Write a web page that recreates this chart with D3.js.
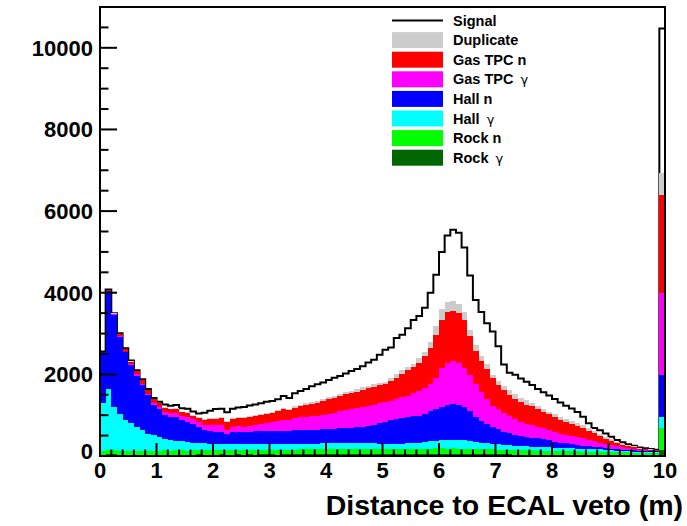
<!DOCTYPE html>
<html><head><meta charset="utf-8">
<script src="https://cdn.jsdelivr.net/npm/d3@7"></script>
<style>html,body{margin:0;padding:0;background:#fff;overflow:hidden}svg{display:block}</style>
</head><body>
<script>
// ---------------- data ----------------
const binLow = [0.0,0.1,0.2,0.3,0.4,0.5,0.6,0.7,0.8,0.9,1.0,1.1,1.2,1.3,1.4,1.5,1.6,1.7,1.8,1.9,
2.0,2.1,2.2,2.3,2.4,2.5,2.6,2.7,2.8,2.9,3.0,3.1,3.2,3.3,3.4,3.5,3.6,3.7,3.8,3.9,
4.0,4.1,4.2,4.3,4.4,4.5,4.6,4.7,4.8,4.9,5.0,5.1,5.2,5.3,5.4,5.5,5.6,5.7,5.8,5.9,
6.0,6.1,6.2,6.3,6.4,6.5,6.6,6.7,6.8,6.9,7.0,7.1,7.2,7.3,7.4,7.5,7.6,7.7,7.8,7.9,
8.0,8.1,8.2,8.3,8.4,8.5,8.6,8.7,8.8,8.9,9.0,9.1,9.2,9.3,9.4,9.5,9.6,9.7,9.8,9.9];
const binWidth = 0.1;

const rockGamma = [30,45,38,35,33,36,32,34,35,31,
33,35,32,36,34,33,35,37,34,36,
35,38,34,36,37,35,38,36,39,37,
38,36,40,37,39,38,41,39,40,42,
40,41,43,40,42,44,41,43,45,42,
44,43,46,44,45,47,46,48,47,49,
50,48,51,49,48,46,45,44,42,41,
40,38,37,36,35,34,33,32,31,30,
30,29,28,28,27,26,25,25,24,23,
22,21,20,20,19,18,17,16,15,150];

const rockN = [85,110,100,95,92,96,90,94,92,95,
98,100,96,102,104,100,106,103,108,105,
110,107,112,109,113,115,112,116,118,114,
118,120,117,121,119,123,120,124,122,125,
123,126,124,127,125,128,126,129,127,130,
128,131,129,132,130,133,131,134,132,135,
134,132,133,131,130,128,126,124,122,120,
118,115,112,110,108,105,103,100,98,95,
93,90,88,86,84,82,80,78,76,74,
72,70,68,66,64,62,60,58,56,540];

const hallGamma = [1185,1485,1052,910,745,668,588,502,423,384,
339,275,262,232,222,212,189,180,168,164,
155,150,139,145,140,140,140,138,138,144,
144,144,143,137,142,144,144,142,143,143,
147,143,148,148,148,148,153,148,143,133,
128,131,125,129,135,140,153,163,181,191,
206,220,216,215,202,186,169,152,146,139,
127,122,116,109,102,96,89,88,86,85,
82,81,79,76,69,67,65,62,60,53,
46,39,32,29,27,25,23,21,19,270];

const hallN = [1240,2400,2270,1880,1670,1420,1260,1110,940,750,
680,590,570,580,510,495,450,400,330,315,
300,305,265,300,310,305,310,315,310,315,
315,315,320,310,325,325,330,335,340,340,
345,355,360,370,380,385,395,420,455,495,
540,565,600,622,641,648,662,687,737,778,
820,858,874,855,814,737,611,535,464,410,
365,325,295,265,245,230,225,210,195,175,
150,130,112,98,88,78,68,60,52,46,
40,38,35,30,27,25,24,23,23,1030];

const gasTpcGamma = [5,10,10,15,20,25,30,35,40,40,
50,90,100,100,110,120,120,120,130,140,
155,160,90,120,130,125,145,160,185,205,
215,245,270,275,300,315,325,335,345,365,
385,400,420,435,450,465,485,490,490,490,
475,485,495,509,525,564,605,646,677,767,
952,1025,1049,1033,968,887,807,701,621,524,
500,460,420,380,350,325,310,290,270,255,
240,220,205,205,195,180,165,148,110,95,
82,70,60,50,38,22,16,12,9,2010];

const gasTpcN = [5,20,20,55,60,70,75,75,80,85,
90,80,80,90,90,90,90,90,120,140,
155,160,200,200,210,210,205,210,210,215,
230,235,250,240,255,275,290,310,320,335,
350,365,375,390,400,410,420,430,440,440,
445,484,525,564,621,646,686,766,872,1048,
1169,1234,1226,1210,1169,944,807,767,726,686,
600,560,520,500,480,470,460,430,410,390,
350,340,330,300,275,250,220,190,170,130,
98,72,60,45,35,28,25,20,15,2400];

const duplicate = [3,5,5,10,10,10,10,10,10,15,
15,20,20,25,20,25,20,20,20,25,
25,25,25,25,25,30,30,30,30,30,
30,30,30,30,35,35,40,40,40,40,
45,45,50,50,55,60,65,65,60,55,
55,81,100,100,89,80,120,105,150,220,
266,258,242,242,202,161,161,121,121,64,
80,100,110,110,110,110,80,80,70,60,
80,75,70,70,65,65,60,55,55,50,
45,40,30,25,25,20,15,13,11,540];

const signal = [10,5,5,10,10,15,15,20,20,20,
25,70,70,85,80,85,80,90,150,185,
215,215,205,225,225,240,260,255,260,270,
260,265,300,270,325,335,350,385,410,410,
425,445,440,460,480,490,515,565,600,695,
785,740,870,870,944,1072,1027,1081,1204,1252,
1403,1625,1749,1735,1577,1331,1094,1086,1008,1066,
860,520,430,480,470,450,440,410,400,390,
370,345,320,300,275,215,120,65,85,80,
65,40,30,25,15,10,10,7,5,3535];

const seriesKeys   = ["rockGamma","rockN","hallGamma","hallN","gasTpcGamma","gasTpcN","duplicate","signal"];
const seriesLabels = ["Rock γ","Rock n","Hall γ","Hall n","Gas TPC γ","Gas TPC n","Duplicate","Signal"];
const seriesColors = ["#006600","#00ff00","#00ffff","#0000ff","#ff00ff","#ff0000","#cccccc","none"];

const xTicks = [0,1,2,3,4,5,6,7,8,9,10];
const yTicks = [0,2000,4000,6000,8000,10000];
const xMinorStep = 0.2, yMinorStep = 500;
const xTitle = "Distance to ECAL veto (m)";

// ---------------- chart ----------------
const W = 687, H = 526;
const L = 100, R = 665, T = 7, B = 456;
const FONT = "'Liberation Sans', Arial, Helvetica, sans-serif";

const svg = d3.select("body").append("svg").attr("width", W).attr("height", H);
svg.append("rect").attr("width", W).attr("height", H).attr("fill", "#fff");

const x = d3.scaleLinear().domain([0, 10]).range([L, R]);
const y = d3.scaleLinear().domain([0, 11000]).range([B, T]);

const series = {rockGamma, rockN, hallGamma, hallN, gasTpcGamma, gasTpcN, duplicate, signal};
const table = binLow.map((b, i) => {
  const o = {bin: b};
  seriesKeys.forEach(k => o[k] = series[k][i]);
  return o;
});
const stacked = d3.stack().keys(seriesKeys)(table);

const area = d3.area()
  .curve(d3.curveStepAfter)
  .x(d => x(d.x))
  .y0(y(0))
  .y1(d => y(d.top));

function pts(s) {
  const p = s.map((d, i) => ({x: binLow[i], top: d[1]}));
  p.push({x: binLow[binLow.length - 1] + binWidth, top: s[s.length - 1][1]});
  return p;
}

const g = svg.append("g");
// draw from top layer (signal) down, each filled from 0 like ROOT THStack
for (let k = stacked.length - 1; k >= 0; k--) {
  const s = stacked[k];
  const key = seriesKeys[k];
  if (key === "signal") {
    g.append("path").attr("d", area(pts(s)))
      .attr("fill", "#fff").attr("stroke", "#000").attr("stroke-width", 2)
      .attr("stroke-linejoin", "miter");
  } else {
    g.append("path").attr("d", area(pts(s)))
      .attr("fill", seriesColors[k]).attr("stroke", "none")
      .attr("shape-rendering", "crispEdges");
  }
}

// frame
svg.append("rect").attr("x", L).attr("y", T).attr("width", R - L).attr("height", B - T)
  .attr("fill", "none").attr("stroke", "#000").attr("stroke-width", 2);

// y ticks
const yMajLen = 17, yMinLen = 8.5;
const yMinor = d3.range(0, 11000 + 1, yMinorStep).filter(v => y(v) >= T);
svg.append("g").selectAll("line").data(yMinor).join("line")
  .attr("x1", L).attr("x2", v => L + (yTicks.includes(v) ? yMajLen : yMinLen))
  .attr("y1", v => y(v)).attr("y2", v => y(v))
  .attr("stroke", "#000").attr("stroke-width", 2);
svg.append("g").selectAll("text").data(yTicks).join("text")
  .attr("x", 93).attr("y", v => y(v) + (v === 0 ? 3 : 8))
  .attr("text-anchor", "end")
  .attr("font-family", FONT).attr("font-weight", "bold").attr("font-size", 22)
  .text(v => String(v));

// x ticks
const xMajLen = 13, xMinLen = 6.5;
const xMinor = d3.range(0, 10 + 1e-9, xMinorStep).map(v => Math.round(v * 10) / 10);
svg.append("g").selectAll("line").data(xMinor).join("line")
  .attr("x1", v => x(v)).attr("x2", v => x(v))
  .attr("y1", B).attr("y2", v => B - (Number.isInteger(v) ? xMajLen : xMinLen))
  .attr("stroke", "#000").attr("stroke-width", 2);
svg.append("g").selectAll("text").data(xTicks).join("text")
  .attr("x", v => x(v)).attr("y", 478)
  .attr("text-anchor", "middle")
  .attr("font-family", FONT).attr("font-weight", "bold").attr("font-size", 22)
  .text(v => String(v));

// x title
svg.append("text").attr("x", 683).attr("y", 515).attr("text-anchor", "end")
  .attr("font-family", FONT).attr("font-weight", "bold").attr("font-size", 28.5)
  .text(xTitle);

// legend (ROOT order: Signal first)
const legOrder = [7, 6, 5, 4, 3, 2, 1, 0];
const leg = svg.append("g");
legOrder.forEach((k, i) => {
  const cy = 20.5 + i * 19.6;
  if (seriesKeys[k] === "signal") {
    leg.append("line").attr("x1", 392).attr("x2", 443).attr("y1", cy).attr("y2", cy)
      .attr("stroke", "#000").attr("stroke-width", 2);
  } else {
    leg.append("rect").attr("x", 392).attr("y", cy - 8).attr("width", 51).attr("height", 16)
      .attr("fill", seriesColors[k]);
  }
  const t = leg.append("text").attr("x", 453).attr("y", cy + 5)
    .attr("font-family", FONT).attr("font-weight", "bold").attr("font-size", 14.5);
  const label = seriesLabels[k];
  if (label.endsWith("γ")) {
    t.append("tspan").text(label.slice(0, -1));
    t.append("tspan").attr("font-weight", "normal").attr("font-family", "'DejaVu Sans', sans-serif")
      .attr("font-size", 13).attr("dx", 3).text("γ");
  } else {
    t.text(label);
  }
});
</script>
</body></html>
